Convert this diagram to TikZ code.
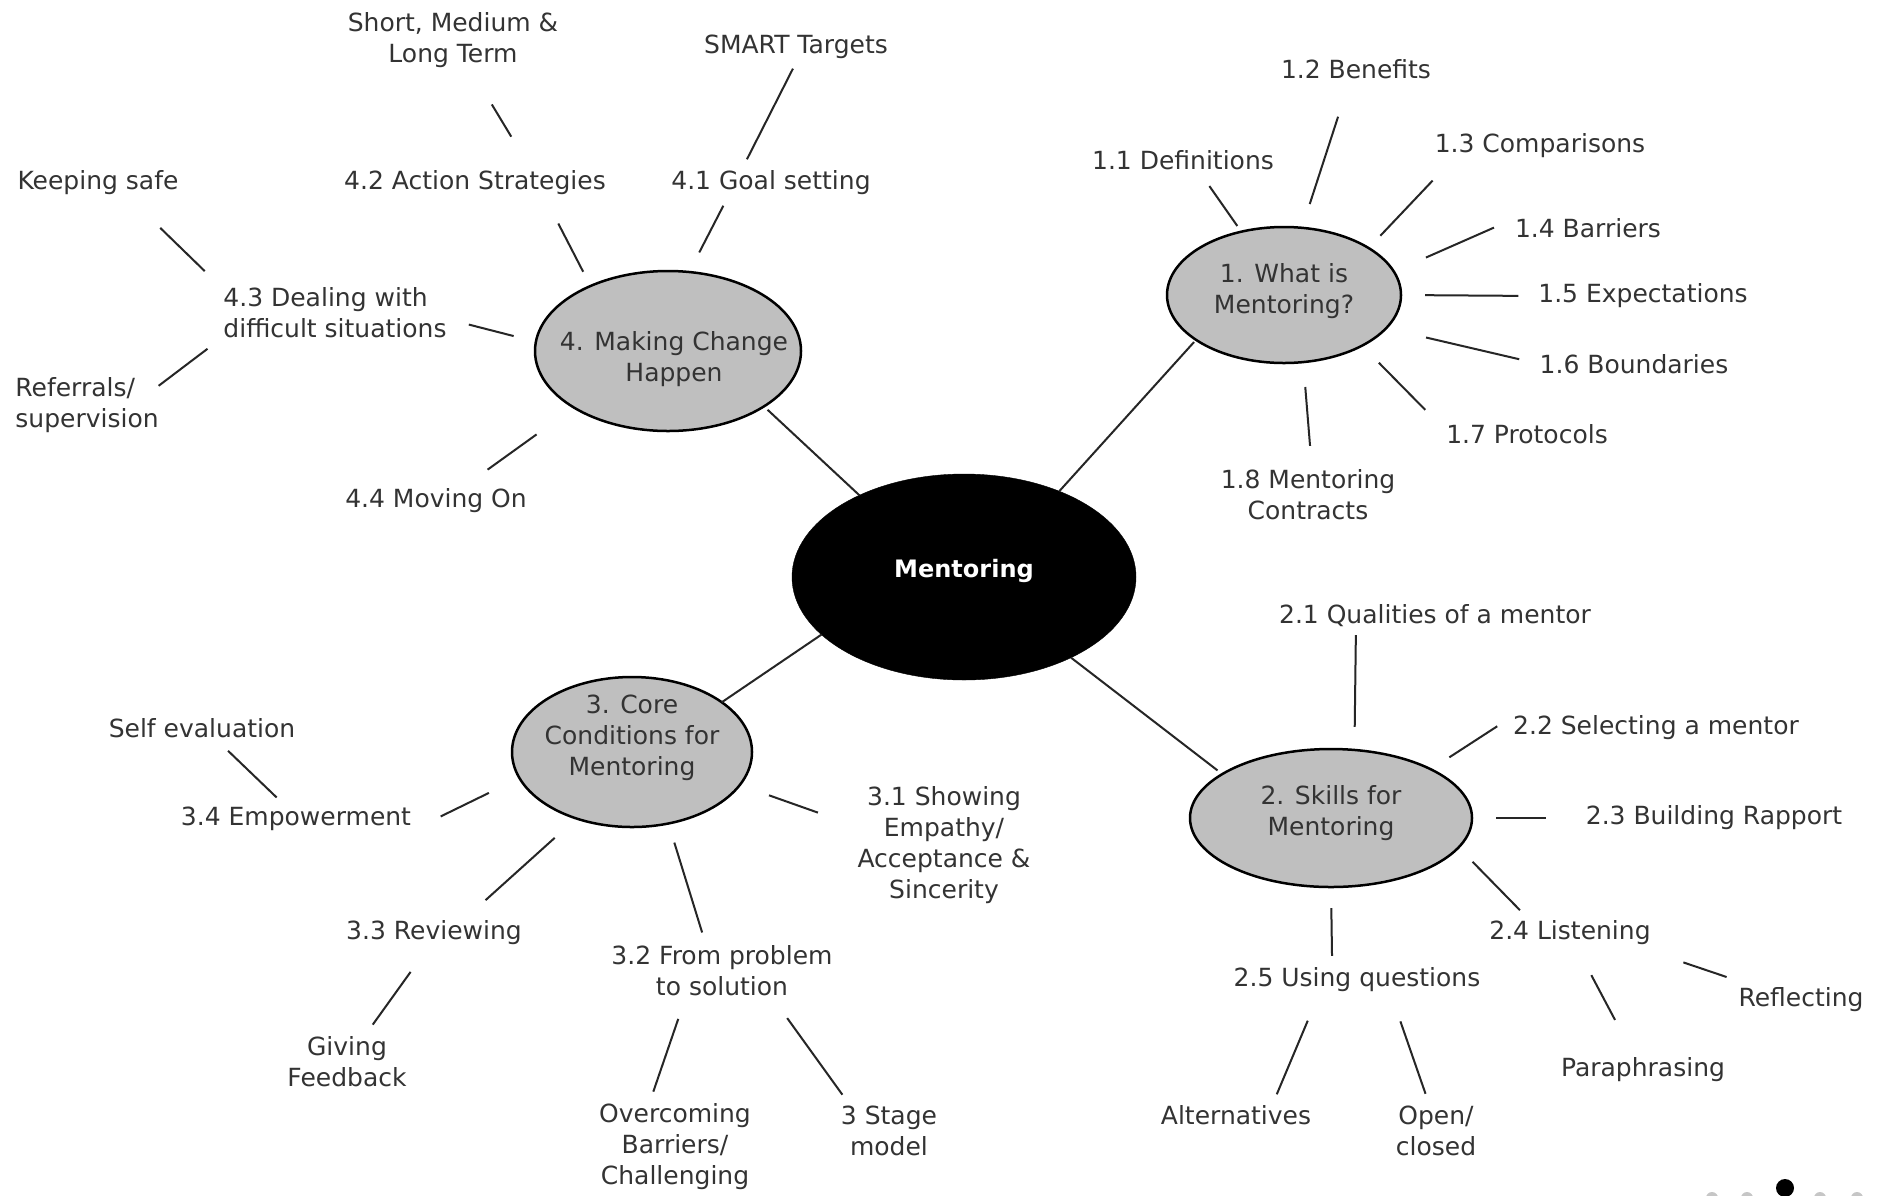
\documentclass[tikz,border=0pt]{standalone}
\usepackage{fontspec}
\setmainfont{DejaVu Sans}
\usetikzlibrary{shapes.geometric}

\begin{document}
\begin{tikzpicture}[
    x=1pt, y=-1pt,
    font=\fontsize{25}{31}\selectfont,
    hub/.style={ellipse, fill=black, draw=black, minimum width=344pt, minimum height=206pt, inner sep=0pt, outer sep=0pt, text depth=18pt, text=white, font=\fontsize{24}{31}\selectfont\bfseries},
    topic/.style={ellipse, fill=gray!50, draw=black, line width=2.5pt, inner sep=0pt, outer sep=0pt},
    topictext/.style={align=center, text=black!80, inner sep=0pt},
    leaf/.style={inner sep=0pt, outer sep=0pt, align=center, text=black!80},
    link/.style 2 args={draw=black!85, line width=2pt, shorten <=#1pt, shorten >=#2pt}
]
    \useasboundingbox[fill=white] (0,0) rectangle (1878,1195);

    % centre and the four topics
    \node[hub] (hub) at (964,577) {Mentoring};
    \node[topic, minimum width=234pt, minimum height=136pt, label={[topictext, yshift=4pt]center:1. What is\\Mentoring?}] (e1) at (1284,295) {};
    \node[topic, minimum width=282pt, minimum height=138pt, label={[topictext, yshift=5pt]center:2. Skills for\\Mentoring}] (e2) at (1331,818) {};
    \node[topic, minimum width=240pt, minimum height=150pt, label={[topictext, yshift=14pt]center:3. Core\\Conditions for\\Mentoring}] (e3) at (632,752) {};
    \node[topic, minimum width=266pt, minimum height=160pt, label={[topictext, xshift=6pt, yshift=-8pt]center:4. Making Change\\Happen}] (e4) at (668,351) {};

    % 1. What is Mentoring?
    \node[leaf] (n11) at (1183,160) {1.1 Definitions};
    \node[leaf] (n12) at (1356,69) {1.2 Benefits};
    \node[leaf] (n13) at (1540,146) {1.3 Comparisons};
    \node[leaf] (n14) at (1588,228) {1.4 Barriers};
    \node[leaf] (n15) at (1643,296) {1.5 Expectations};
    \node[leaf] (n16) at (1634,364) {1.6 Boundaries};
    \node[leaf] (n17) at (1527,434) {1.7 Protocols};
    \node[leaf] (n18) at (1308,495) {1.8 Mentoring\\Contracts};

    % 2. Skills for Mentoring
    \node[leaf] (n21) at (1435,616) {2.1 Qualities of a mentor};
    \node[leaf] (n22) at (1656,728) {2.2 Selecting a mentor};
    \node[leaf] (n23) at (1714,818) {2.3 Building Rapport};
    \node[leaf] (n24) at (1570,933) {2.4 Listening};
    \node[leaf] (n25) at (1357,980) {2.5 Using questions};
    \node[leaf] (nalt) at (1236,1115) {Alternatives};
    \node[leaf] (nopen) at (1436,1131) {Open/\\closed};
    \node[leaf] (nrefl) at (1801,1000) {Reflecting};
    \node[leaf] (npara) at (1643,1070) {Paraphrasing};

    % 3. Core Conditions for Mentoring
    \node[leaf] (n31) at (944,845) {3.1 Showing\\Empathy/\\Acceptance \&\\Sincerity};
    \node[leaf] (n32) at (722,971) {3.2 From problem\\to solution};
    \node[leaf] (n33) at (434,933) {3.3 Reviewing};
    \node[leaf] (n34) at (296,819) {3.4 Empowerment};
    \node[leaf] (nself) at (202,728) {Self evaluation};
    \node[leaf] (ngive) at (347,1062) {Giving\\Feedback};
    \node[leaf] (nover) at (675,1147) {Overcoming\\Barriers/\\Challenging};
    \node[leaf] (nstage) at (889,1131) {3 Stage\\model};

    % 4. Making Change Happen
    \node[leaf] (nlong) at (453,40) {Short, Medium \&\\Long Term};
    \node[leaf] (nsmart) at (796,47) {SMART Targets};
    \node[leaf] (n42) at (475,183) {4.2 Action Strategies};
    \node[leaf] (n41) at (771,183) {4.1 Goal setting};
    \node[leaf] (nkeep) at (98,183) {Keeping safe};
    \node[leaf, align=left] (n43) at (335,313) {4.3 Dealing with\\difficult situations};
    \node[leaf, align=left] (nrefer) at (87,405) {Referrals/\\supervision};
    \node[leaf] (n44) at (436,501) {4.4 Moving On};

    % spokes
    \draw[link={0}{3}] (hub.42) -- (e1.-153);
    \draw[link={0}{6}] (hub.-37) -- (e2.158);
    \draw[link={0}{0}] (hub.-158) -- (e3.29);
    \draw[link={0}{5}] (hub.142) -- (e4.-30);

    \draw[link={7}{20}] (e1.124) -- (n11.-33);
    \draw[link={25}{40}] (e1.75) -- (n12.-120);
    \draw[link={17}{31}] (e1.29) -- (n13.-172);
    \draw[link={35}{23}] (e1.12) -- (n14.north west);
    \draw[link={24}{20}] (e1.0) -- (n15.180);
    \draw[link={41}{21}] (e1.-18) -- (n16.180);
    \draw[link={24}{30}] (e1.-33) -- (n17.178);
    \draw[link={25}{24}] (e1.-74) -- (n18.81);

    \draw[link={23}{8}] (e2.71) -- (n21.-172);
    \draw[link={22}{19}] (e2.26) -- (n22.north west);
    \draw[link={24}{40}] (e2.0) -- (n23.180);
    \draw[link={20}{15}] (e2.-13) -- (n24.163);
    \draw[link={21}{12}] (e2.-90) -- (n25.154);
    \draw[link={31}{12}] (n25.-162) -- (nalt.15);
    \draw[link={31}{13}] (n25.-20) -- (nopen.104);
    \draw[link={54}{34}] (n24.-11) -- (nrefl.164);
    \draw[link={34}{43}] (n24.-66) -- (npara.123);

    \draw[link={31}{42}] (e3.-17) -- (n31.168);
    \draw[link={20}{14}] (e3.-63) -- (n32.122);
    \draw[link={29}{31}] (e3.-130) -- (n33.23);
    \draw[link={34}{33}] (e3.-167) -- (n34.south east);
    \draw[link={14}{19}] (n34.128) -- (nself.-38);
    \draw[link={33}{15}] (n33.-109) -- (ngive.56);
    \draw[link={24}{13}] (n32.-145) -- (nover.121);
    \draw[link={27}{14}] (n32.-27) -- (nstage.147);

    \draw[link={40}{43}] (n42.12) -- (nlong.-59);
    \draw[link={13}{11}] (n41.158) -- (nsmart.-81);
    \draw[link={16}{32}] (e4.140) -- (n42.-10);
    \draw[link={22}{12}] (e4.75) -- (n41.-164);
    \draw[link={47}{26}] (nkeep.-23) -- (n43.168);
    \draw[link={0}{20}] (nrefer.15) -- (n43.-168);
    \draw[link={23}{23}] (e4.176) -- (n43.-3);
    \draw[link={46}{33}] (e4.-149) -- (n44.26);

    % slide dots
    \fill[gray!45] (1712,1198) circle[radius=6];
    \fill[gray!45] (1747,1198) circle[radius=6];
    \fill[black] (1785,1188) circle[radius=9];
    \fill[gray!45] (1820,1198) circle[radius=6];
    \fill[gray!45] (1857,1198) circle[radius=6];
\end{tikzpicture}
\end{document}
